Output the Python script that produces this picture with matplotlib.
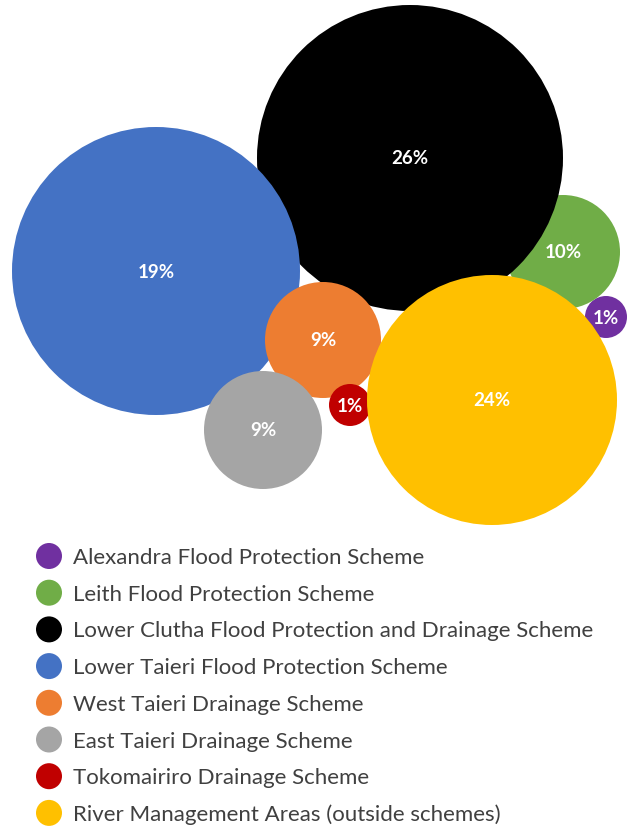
import matplotlib
matplotlib.use("Agg")
import matplotlib.pyplot as plt
from matplotlib.patches import Circle

# Share of spend by scheme
schemes = [
    "Alexandra Flood Protection Scheme",
    "Leith Flood Protection Scheme",
    "Lower Clutha Flood Protection and Drainage Scheme",
    "Lower Taieri Flood Protection Scheme",
    "West Taieri Drainage Scheme",
    "East Taieri Drainage Scheme",
    "Tokomairiro Drainage Scheme",
    "River Management Areas (outside schemes)",
]
share_pct = [1, 10, 26, 19, 9, 9, 1, 24]
colors = ["#7030A0", "#70AD47", "#000000", "#4472C4",
          "#ED7D31", "#A5A5A5", "#C00000", "#FFC000"]

# Packed-bubble layout (pixel space, y grows downward)
bubble_x = [606, 563, 410, 156, 323, 263, 350, 492]
bubble_y = [317, 252, 158, 271, 340, 430, 405, 400]
bubble_r = [21, 57, 153, 144, 58, 59, 21, 125]

W, H = 627, 827
fig = plt.figure(figsize=(W / 100, H / 100), dpi=100)
ax = fig.add_axes([0, 0, 1, 1])
ax.set_xlim(0, W)
ax.set_ylim(H, 0)
ax.set_aspect("equal")
ax.axis("off")

font = ["Lato", "DejaVu Sans"]

for x, y, r, c, v in zip(bubble_x, bubble_y, bubble_r, colors, share_pct):
    ax.add_patch(Circle((x, y), r, facecolor=c, edgecolor="none"))
    ax.text(x, y + 1, f"{v}%", color="white", ha="center", va="center",
            fontsize=13.5, fontweight="bold", family=font)

# Legend
leg_x, leg_text_x, leg_y0, leg_dy = 49, 73, 556, 36.7
for i, (name, c) in enumerate(zip(schemes, colors)):
    y = leg_y0 + i * leg_dy
    ax.add_patch(Circle((leg_x, y), 13, facecolor=c, edgecolor="none"))
    ax.text(leg_text_x, y + 2, name, color="#404040", ha="left", va="center",
            fontsize=16, family=font)

fig.savefig("out.png", dpi=100)
